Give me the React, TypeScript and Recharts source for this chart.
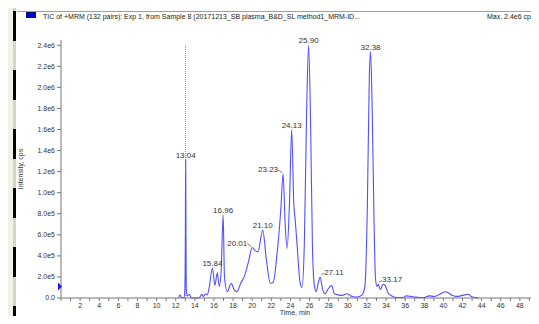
import { LineChart, Line, XAxis, YAxis, ReferenceLine, ReferenceDot, Label } from 'recharts';

// TIC trace (time in min, intensity in cps)
const times = [
  12.3, 12.45, 12.6, 12.9, 12.98, 13.01, 13.04, 13.07, 13.1, 13.2, 13.45, 13.6, 14.0, 14.5, 14.7, 14.9,
  15.1, 15.3, 15.5, 15.84, 16.1, 16.35, 16.55, 16.75, 16.96, 17.1, 17.4, 17.8, 18.1, 18.4, 18.8, 19.2,
  19.6, 20.01, 20.3, 20.6, 21.1, 21.5, 21.9, 22.2, 22.6, 23.0, 23.23, 23.45, 23.65, 23.9, 24.13, 24.35,
  24.5, 24.7, 25.0, 25.2, 25.45, 25.7, 25.9, 26.1, 26.3, 26.5, 26.7, 26.9, 27.11, 27.35, 27.6, 27.9,
  28.3, 28.6, 29.0, 29.4, 29.9, 30.3, 30.8, 31.2, 31.5, 31.8, 32.05, 32.25, 32.38, 32.55, 32.75, 32.9,
  33.05, 33.17, 33.4, 33.7, 33.9, 34.2, 34.6, 35.2, 35.8, 36.1, 36.6, 37.0, 37.5, 38.0, 38.5, 39.0,
  39.5, 39.9, 40.2, 40.5, 40.9, 41.3, 41.8, 42.2, 42.6, 42.9, 43.3, 43.7,
];
// values in units of 1e5 cps
const intensity = [
  0.0, 0.3, 0.05, 0.05, 2.0, 6.2, 13.1, 6.0, 1.0, 0.2, 0.35, 0.05, 0.0, 0.05, 0.35, 0.15,
  0.4, 0.3, 1.0, 2.85, 1.2, 2.4, 1.1, 2.5, 7.9, 2.0, 0.6, 1.4, 0.8, 0.6, 1.4, 2.1,
  3.4, 4.8, 4.5, 4.4, 6.45, 3.5, 1.4, 1.5, 4.2, 8.5, 11.8, 7.0, 4.7, 9.0, 16.0, 9.0,
  7.4, 5.0, 1.5, 1.0, 5.0, 18.0, 24.0, 17.0, 5.0, 1.2, 0.6, 1.4, 2.0, 0.9, 0.4, 0.8,
  1.2, 0.4, 0.3, 0.25, 0.4, 0.2, 0.1, 0.15, 0.3, 1.2, 9.0, 21.0, 23.4, 18.0, 7.0, 1.8,
  1.1, 1.3, 0.8, 1.3, 1.2, 0.5, 0.2, 0.05, 0.05, 0.2, 0.15, 0.1, 0.05, 0.05, 0.2, 0.15,
  0.3, 0.5, 0.6, 0.5, 0.25, 0.15, 0.2, 0.3, 0.35, 0.15, 0.05, 0.0,
];

const peakTimes = [13.04, 15.84, 16.96, 20.01, 21.1, 23.23, 24.13, 25.9, 27.11, 32.38, 33.17];
const peakValues = [13.1, 2.85, 7.9, 4.8, 6.45, 11.8, 16.0, 24.0, 2.0, 23.4, 1.3];
const peakLabels = ['13.04', '15.84', '16.96', '20.01', '21.10', '23.23', '24.13', '25.90', '27.11', '32.38', '33.17'];

const xTicks = Array.from({ length: 51 }, (_, i) => i);
const yTicks = [0, 2e5, 4e5, 6e5, 8e5, 1e6, 1.2e6, 1.4e6, 1.6e6, 1.8e6, 2.0e6, 2.2e6, 2.4e6];

const title = 'TIC of +MRM (132 pairs): Exp 1, from Sample 8 (20171213_SB plasma_B&D_SL method1_MRM-ID...';
const maxText = 'Max. 2.4e6 cps.';

const data = times.map((t, i) => ({ t, v: intensity[i] * 1e5 }));

const labelSide: Record<string, 'top' | 'left' | 'right'> = {
  '20.01': 'left',
  '23.23': 'left',
  '27.11': 'right',
  '33.17': 'right',
};

const FONT = '"Liberation Sans", Arial, sans-serif';
const BLUE = '#5050ff';
const BEIGE = '#f3f1e2';

function fmtY(v: number) {
  if (v === 0) return '0.0';
  if (v >= 1e6) return (v / 1e6).toFixed(1) + 'e6';
  return (v / 1e5).toFixed(1) + 'e5';
}

function PeakLabel({ cx, cy, text }: { cx?: number; cy?: number; text: string }) {
  if (cx == null || cy == null) return null;
  const side = labelSide[text] ?? 'top';
  const style = { fontSize: 8, fill: '#333', fontFamily: FONT };
  if (side === 'left') {
    return (
      <g>
        <line x1={cx - 5} y1={cy - 4} x2={cx - 1} y2={cy - 1} stroke="#555" strokeWidth={0.8} />
        <text x={cx - 5} y={cy - 1.5} textAnchor="end" style={style}>{text}</text>
      </g>
    );
  }
  if (side === 'right') {
    return (
      <g>
        <line x1={cx + 1} y1={cy - 2} x2={cx + 4} y2={cy - 4} stroke="#555" strokeWidth={0.8} />
        <text x={cx + 4} y={cy - 2} textAnchor="start" style={style}>{text}</text>
      </g>
    );
  }
  return (
    <text x={cx} y={cy - 2} textAnchor="middle" style={style}>{text}</text>
  );
}

function Marker({ cx, cy }: { cx?: number; cy?: number }) {
  if (cx == null || cy == null) return null;
  return <polygon points={`${cx - 3},${cy - 4} ${cx + 1},${cy} ${cx - 3},${cy + 4}`} fill="#1a1aee" />;
}

export default function App() {
  return (
    <div style={{ position: 'relative', width: 539, height: 324, margin: -8, overflow: 'hidden', background: '#fff', fontFamily: FONT }}>
      {/* left strip and dashed frame */}
      <div style={{ position: 'absolute', left: 0, top: 0, width: 14, height: 324, background: BEIGE }} />
      <div style={{ position: 'absolute', left: 3, top: 14, width: 3, height: 310, background: 'linear-gradient(to bottom, #000 0 30px, transparent 30px)', backgroundSize: '3px 59px', backgroundPosition: '0 -16px' }} />
      <div style={{ position: 'absolute', left: -7, top: 3, width: 10, height: 12, borderTop: '3px solid #000', borderRight: '3px solid #000', borderTopRightRadius: 9 }} />
      <div style={{ position: 'absolute', left: 13, top: 0, width: 3, height: 323, background: 'linear-gradient(to bottom, #000 0 30px, #d6d5cc 30px)', backgroundSize: '3px 59px', backgroundPosition: '0 11px' }} />
      <div style={{ position: 'absolute', left: 13, top: 320, width: 526, height: 4, background: BEIGE }} />
      <div style={{ position: 'absolute', left: 13, top: 320, width: 526, height: 3, background: 'linear-gradient(to right, #000 0 30px, transparent 30px)', backgroundSize: '59.7px 3px', backgroundPosition: '0 0' }} />
      <div style={{ position: 'absolute', left: 0, top: 294, fontSize: 7, color: '#333' }}>0</div>

      {/* header */}
      <div style={{ position: 'absolute', left: 17, top: 11, width: 522, height: 1, background: '#a0a0a0' }} />
      <div style={{ position: 'absolute', left: 26, top: 12, width: 8, height: 4, background: '#0000dd', border: '1px solid #001a66' }} />
      <div style={{ position: 'absolute', left: 43, top: 13, fontSize: 7, color: '#222', whiteSpace: 'nowrap', lineHeight: '8px' }}>{title}</div>
      <div style={{ position: 'absolute', left: 487, top: 13, fontSize: 7, color: '#222', whiteSpace: 'nowrap', lineHeight: '8px' }}>{maxText}</div>

      <div style={{ position: 'absolute', left: 0, top: 0 }}>
        <LineChart width={560} height={324} data={data} margin={{ top: 40, right: 21, left: 17, bottom: 4 }}>
          <XAxis
            dataKey="t"
            type="number"
            domain={[0, 50]}
            ticks={xTicks}
            interval={0}
            allowDataOverflow
            height={22}
            tickSize={3}
            tickMargin={2}
            stroke="#777"
            tick={{ fontSize: 7, fill: '#333', fontFamily: FONT }}
            tickFormatter={(v: number) => (v > 0 && v % 2 === 0 ? String(v) : '')}
          >
            <Label value="Time, min" position="insideBottom" offset={5} dx={-5} style={{ fontSize: 7, fill: '#333', fontFamily: FONT }} />
          </XAxis>
          <YAxis
            type="number"
            domain={[0, 2.45e6]}
            ticks={yTicks}
            interval={0}
            width={44}
            tickSize={4}
            tickMargin={2}
            stroke="#777"
            tick={{ fontSize: 7, fill: '#333', fontFamily: FONT }}
            tickFormatter={fmtY}
          >
            <Label value="Intensity, cps" angle={-90} position="insideLeft" offset={4} style={{ fontSize: 7, fill: '#333', fontFamily: FONT, textAnchor: 'middle' }} />
          </YAxis>
          <ReferenceLine
            segment={[{ x: 13.04, y: 0 }, { x: 13.04, y: 2.4e6 }]}
            stroke="#8a8a8a"
            strokeDasharray="1 1"
          />
          <Line type="monotone" dataKey="v" stroke={BLUE} strokeWidth={1.1} dot={false} isAnimationActive={false} />
          {peakTimes.map((t, i) => (
            <ReferenceDot
              key={peakLabels[i]}
              x={t}
              y={peakValues[i] * 1e5}
              r={0}
              ifOverflow="visible"
              shape={(p: any) => <PeakLabel cx={p.cx} cy={p.cy} text={peakLabels[i]} />}
            />
          ))}
          <ReferenceDot x={0} y={1.1e5} r={0} ifOverflow="visible" shape={(p: any) => <Marker cx={p.cx} cy={p.cy} />} />
        </LineChart>
      </div>
    </div>
  );
}
